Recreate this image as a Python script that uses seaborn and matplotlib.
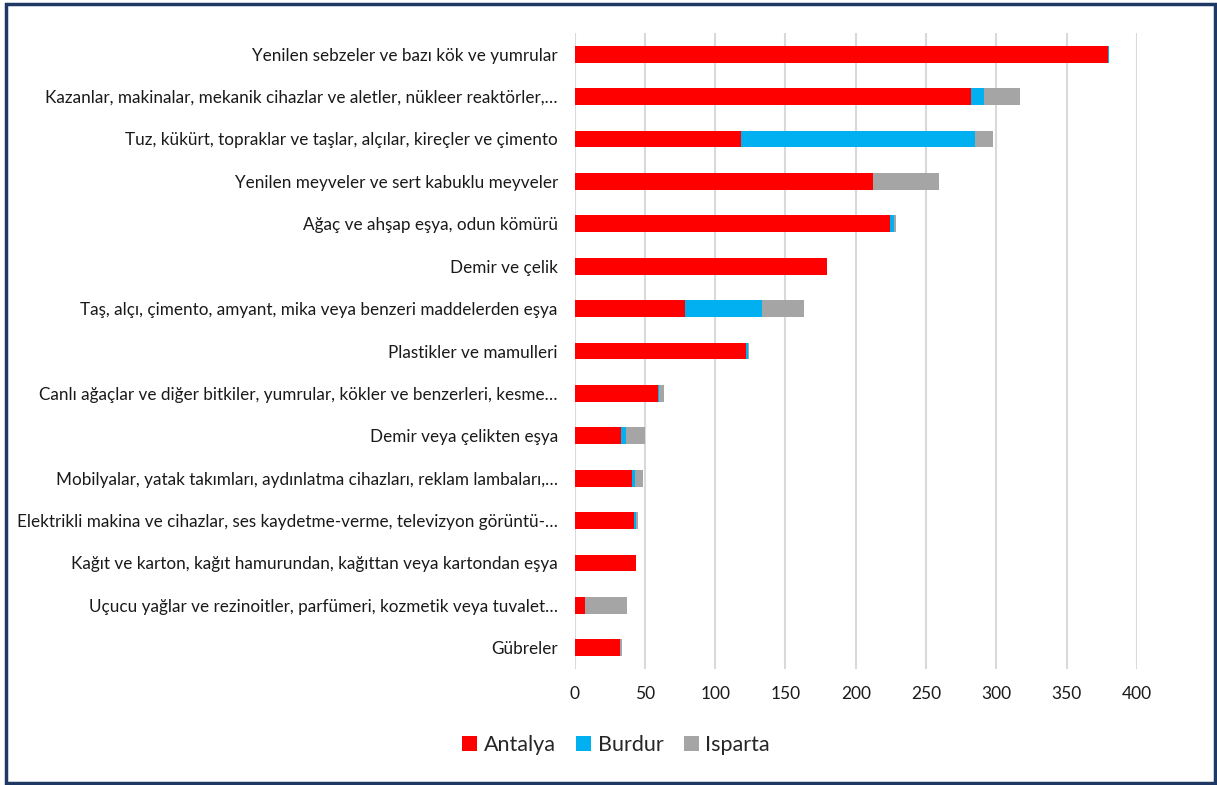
import matplotlib
matplotlib.use("Agg")
import matplotlib.pyplot as plt
from matplotlib.patches import Patch, Rectangle
import numpy as np
import pandas as pd
import seaborn as sns

categories = [
    "Yenilen sebzeler ve bazı kök ve yumrular",
    "Kazanlar, makinalar, mekanik cihazlar ve aletler, nükleer reaktörler,…",
    "Tuz, kükürt, topraklar ve taşlar, alçılar, kireçler ve çimento",
    "Yenilen meyveler ve sert kabuklu meyveler",
    "Ağaç ve ahşap eşya, odun kömürü",
    "Demir ve çelik",
    "Taş, alçı, çimento, amyant, mika veya benzeri maddelerden eşya",
    "Plastikler ve mamulleri",
    "Canlı ağaçlar ve diğer bitkiler, yumrular, kökler ve benzerleri, kesme…",
    "Demir veya çelikten eşya",
    "Mobilyalar, yatak takımları, aydınlatma cihazları, reklam lambaları,…",
    "Elektrikli makina ve cihazlar, ses kaydetme-verme, televizyon görüntü-…",
    "Kağıt ve karton, kağıt hamurundan, kağıttan veya kartondan eşya",
    "Uçucu yağlar ve rezinoitler, parfümeri, kozmetik veya tuvalet…",
    "Gübreler",
]
antalya = [379.6, 282.0, 118.4, 212.5, 224.4, 179.8, 78.8, 121.8, 59.2, 33.3, 41.1, 42.6, 43.5, 7.7, 32.4]
burdur = [0.8, 9.5, 166.6, 0.0, 2.8, 0.0, 54.8, 1.6, 0.9, 3.3, 1.9, 1.4, 0.0, 0.0, 0.0]
isparta = [0.0, 25.4, 12.7, 46.5, 1.2, 0.0, 29.6, 0.7, 3.8, 13.5, 5.7, 0.9, 0.0, 29.6, 1.4]
series = ["Antalya", "Burdur", "Isparta"]
colors = ["#FF0000", "#00B0F0", "#A5A5A5"]
x_ticks = [0, 50, 100, 150, 200, 250, 300, 350, 400]

df = pd.DataFrame({"kategori": categories, "Antalya": antalya,
                   "Burdur": burdur, "Isparta": isparta})
# cumulative right edges of each stacked segment
df["c1"] = df["Antalya"]
df["c2"] = df["c1"] + df["Burdur"]
df["c3"] = df["c2"] + df["Isparta"]

sns.set_theme(style="white")
plt.rcParams["font.family"] = ["Lato", "DejaVu Sans"]

fig = plt.figure(figsize=(12.17, 7.85), dpi=100)
ax = fig.add_axes([574.5 / 1217, 1 - 669 / 785, (1137 - 574.5) / 1217, (669 - 33) / 785])

# draw longest segment first, shorter cumulative segments on top
for col, color in zip(["c3", "c2", "c1"], colors[::-1]):
    sns.barplot(data=df, x=col, y="kategori", color=color, orient="h",
                width=0.4, saturation=1, ax=ax, zorder=3, linewidth=0)

ax.set_xlim(0, 400)
ax.set_xticks(x_ticks)
ax.set_xticklabels([str(t) for t in x_ticks], fontsize=12.5, color="#1a1a1a")
ax.tick_params(axis="y", labelsize=12.3, labelcolor="#1a1a1a", pad=12, length=0)
ax.tick_params(axis="x", pad=12, length=0)
ax.set_xlabel("")
ax.set_ylabel("")
ax.grid(axis="x", color="#D9D9D9", linewidth=1.5, zorder=0)
ax.grid(axis="y", visible=False)
ax.set_axisbelow(True)
for s in ax.spines.values():
    s.set_visible(False)

handles = [Patch(facecolor=c, edgecolor="none", label=l) for c, l in zip(colors, series)]
fig.legend(handles=handles, loc="center", bbox_to_anchor=(616 / 1217, 1 - 745 / 785),
           ncol=3, frameon=False, fontsize=15.5, handlelength=0.7, handleheight=0.7,
           handletextpad=0.3, columnspacing=0.95)

fig.add_artist(Rectangle((6 / 1217, 2.5 / 785), 1208.5 / 1217, 779 / 785,
                         transform=fig.transFigure, fill=False,
                         edgecolor="#1F3864", linewidth=2.5))

fig.savefig("out.png", dpi=100)
